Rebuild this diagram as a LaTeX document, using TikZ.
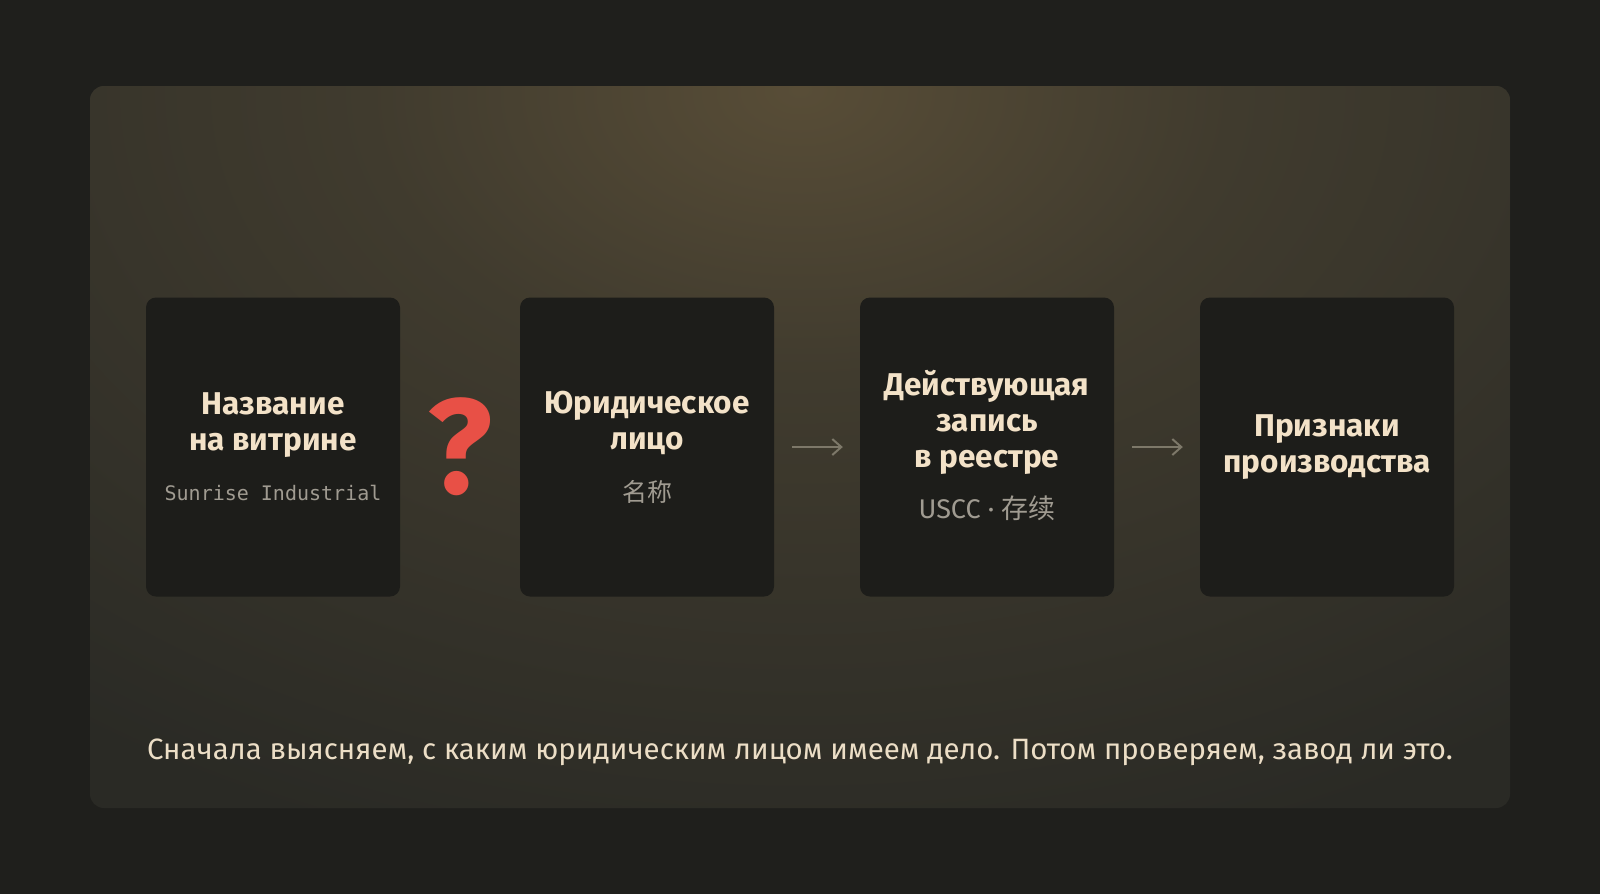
\documentclass[tikz,border=0pt]{standalone}
\usepackage{fontspec}
\setmainfont{Fira Sans}
\newfontfamily\monofont{DejaVu Sans Mono}
\newfontfamily\cjkfont{Noto Sans CJK SC}
\newfontfamily\notefont{Fira Sans}
\usetikzlibrary{arrows.meta, positioning}
\definecolor{bgdark}{RGB}{31, 31, 28}
\definecolor{panelbase}{RGB}{42, 42, 37}
\definecolor{glowtop}{RGB}{88, 77, 55}
\definecolor{glowmid}{RGB}{64, 59, 46}
\definecolor{carddark}{RGB}{29, 29, 26}
\definecolor{creamtext}{RGB}{243, 226, 200}
\definecolor{subgrey}{RGB}{160, 155, 145}
\definecolor{qred}{RGB}{232, 80, 70}
\definecolor{arrowgrey}{RGB}{125, 120, 105}
\definecolor{notetext}{RGB}{236, 222, 198}
\pgfdeclareradialshading{glowshade}{\pgfpoint{0bp}{0bp}}{color(0bp)=(glowtop); color(9bp)=(glowmid); color(25bp)=(panelbase); color(50bp)=(panelbase)}

\begin{document}
\begin{tikzpicture}[x=1pt, y=-1pt,
  card/.style={fill=carddark, rounded corners=10pt, minimum width=254pt, minimum height=299pt, inner sep=0pt},
  cardtitle/.style={text=creamtext, font=\fontsize{31.5}{36}\selectfont\bfseries, align=center, inner sep=0pt},
  cardsub/.style={text=subgrey, inner sep=0pt},
  flowarrow/.style={-{Straight Barb[length=9pt, width=16pt]}, line width=2pt, draw=arrowgrey, shorten <=18pt, shorten >=17pt}]

  % Background and panel
  \fill[bgdark] (0,0) rectangle (1600,894);
  \useasboundingbox (0,0) rectangle (1600,894);
  \fill[panelbase, rounded corners=14pt] (90,86) rectangle (1510,808);
  \begin{scope}
    \clip[rounded corners=14pt] (90,86) rectangle (1510,808);
    \shade[shading=glowshade] (800,90) ellipse [x radius=1200, y radius=800];
  \end{scope}

  % Cards
  \node[card] (card1) at (273,447) {};
  \node[card] (card2) at (647,447) {};
  \node[card] (card3) at (987,447) {};
  \node[card] (card4) at (1327,447) {};

  % Card texts
  \node[cardtitle] (name1) at (273,425) {Название\\на витрине};
  \node[cardsub, font=\monofont\fontsize{20}{24}\selectfont] (shop) at (273,493) {Sunrise Industrial};
  \node[cardtitle] (name2) at (647,423) {Юридическое\\лицо};
  \node[cardsub, font=\cjkfont\fontsize{25}{30}\selectfont] (cname) at (647,492) {名称};
  \node[cardtitle] (name3) at (987,422) {Действующая\\запись\\в реестре};
  \node[cardsub, font=\fontsize{27}{30}\selectfont] (uscc) at (987,508) {USCC · {\cjkfont 存续}};
  \node[cardtitle] (name4) at (1327,447) {Признаки\\производства};

  % Question and arrows
  \node[text=qred, font=\fontsize{135}{135}\selectfont\bfseries, inner sep=0pt] (ask) at (460,447) {?};
  \draw[flowarrow] (card2) -- (card3);
  \draw[flowarrow] (card3) -- (card4);

  % Note
  \node[text=notetext, font=\notefont\fontsize{29.4}{34}\selectfont, inner sep=0pt] (note) at (800,752) {Сначала выясняем, с каким юридическим лицом имеем дело. Потом проверяем, завод ли это.};
\end{tikzpicture}
\end{document}
